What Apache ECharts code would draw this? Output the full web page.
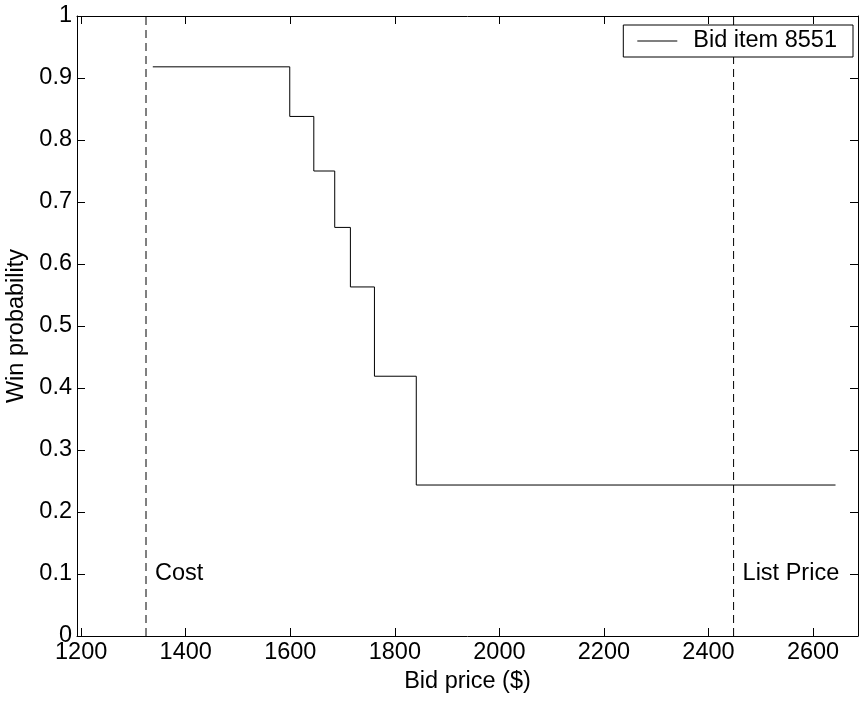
<!DOCTYPE html>
<html>
<head>
<meta charset="utf-8">
<script src="https://cdn.jsdelivr.net/npm/echarts@6/dist/echarts.min.js"></script>
<style>html,body{margin:0;padding:0;background:#fff}#c{width:865px;height:703px}</style>
</head>
<body>
<div id="c"></div>
<script>
// Data
var bidPrices = [1337, 1599, 1645, 1685, 1715, 1761, 1841, 2643];
var winProb   = [0.918, 0.838, 0.750, 0.659, 0.563, 0.419, 0.2435, 0.2435];
var costPrice = 1324;
var listPrice = 2448;
var xTicks = [1200, 1400, 1600, 1800, 2000, 2200, 2400, 2600];
var xMin = 1192, xMax = 2686;
var seriesName = 'Bid item 8551';

var FONT = '"Liberation Sans", Arial, Helvetica, sans-serif';
var FS = 23.5;
var stepData = bidPrices.map(function (x, i) { return [x, winProb[i]]; });

var chart = echarts.init(document.getElementById('c'), null, {renderer: 'canvas'});
var axisCommon = {
  axisLine: {show: true, onZero: false, lineStyle: {color: '#000', width: 1}},
  axisTick: {show: true, inside: true, length: 8, lineStyle: {color: '#000', width: 1}},
  splitLine: {show: false}
};
var labelStyle = {show: true, position: 'right', distance: 9,
  fontFamily: FONT, fontSize: FS, color: '#000', opacity: 1};
chart.setOption({
  backgroundColor: '#fff',
  animation: false,
  grid: {left: 77, top: 16, right: 7, bottom: 67, containLabel: false, outerBoundsMode: 'none'},
  legend: {
    show: true,
    data: [{name: seriesName, icon: 'rect'}],
    right: 12, top: 25,
    orient: 'horizontal',
    backgroundColor: '#fff',
    borderColor: '#000', borderWidth: 1, borderRadius: 0,
    padding: [4, 16, 4, 14],
    itemWidth: 40, itemHeight: 1,
    itemStyle: {color: '#000', borderWidth: 0},
    textStyle: {fontFamily: FONT, fontSize: FS, color: '#000', padding: [0, 0, 0, 11]}
  },
  xAxis: [
    Object.assign({}, axisCommon, {
      type: 'value', min: xMin, max: xMax, position: 'bottom',
      name: 'Bid price ($)', nameLocation: 'middle', nameGap: 33,
      nameTextStyle: {fontFamily: FONT, fontSize: FS, color: '#000'},
      axisTick: Object.assign({}, axisCommon.axisTick, {customValues: xTicks}),
      axisLabel: {customValues: xTicks, fontFamily: FONT, fontSize: FS, color: '#000', margin: 5,
        formatter: function (v) { return String(v); }}
    }),
    Object.assign({}, axisCommon, {
      type: 'value', min: xMin, max: xMax, position: 'top',
      axisTick: Object.assign({}, axisCommon.axisTick, {customValues: xTicks}),
      axisLabel: {show: false}
    })
  ],
  yAxis: [
    Object.assign({}, axisCommon, {
      type: 'value', min: 0, max: 1, interval: 0.1, position: 'left',
      name: 'Win probability', nameLocation: 'middle', nameGap: 45,
      nameTextStyle: {fontFamily: FONT, fontSize: FS, color: '#000'},
      axisLabel: {fontFamily: FONT, fontSize: FS, color: '#000', margin: 5,
        formatter: function (v) { return String(Math.round(v * 10) / 10); }}
    }),
    Object.assign({}, axisCommon, {
      type: 'value', min: 0, max: 1, interval: 0.1, position: 'right',
      axisLabel: {show: false}
    })
  ],
  series: [
    {
      name: seriesName, type: 'line', step: 'end',
      data: stepData, symbol: 'none', showSymbol: false,
      lineStyle: {color: '#000', width: 1}, itemStyle: {color: '#000'},
      z: 3
    },
    {
      name: 'cost', type: 'line', symbol: 'none',
      data: [[costPrice, 0], [costPrice, 1]],
      lineStyle: {color: '#000', width: 1, type: [8, 5]}, z: 2
    },
    {
      name: 'list', type: 'line', symbol: 'none',
      data: [[listPrice, 0], [listPrice, 1]],
      lineStyle: {color: '#000', width: 1, type: [8, 5]}, z: 2
    },
    {
      name: 'labels', type: 'scatter', symbolSize: 0,
      itemStyle: {color: '#000', opacity: 1},
      data: [
        {value: [costPrice, 0.1], label: Object.assign({}, labelStyle, {formatter: 'Cost'})},
        {value: [listPrice, 0.1], label: Object.assign({}, labelStyle, {formatter: 'List Price'})}
      ],
      label: labelStyle,
      emphasis: {disabled: true},
      silent: true, z: 4
    }
  ]
});
</script>
</body>
</html>
